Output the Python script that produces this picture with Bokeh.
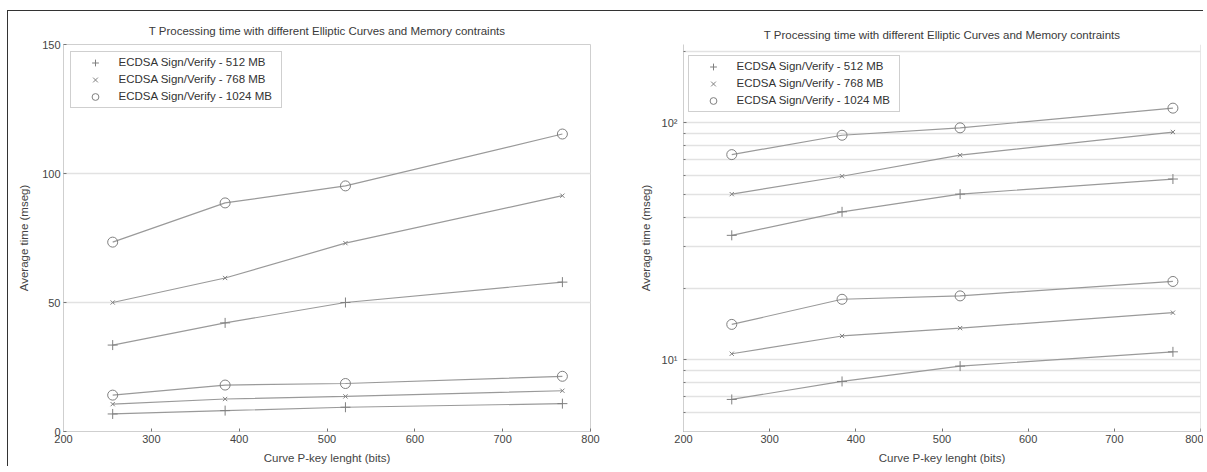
from bokeh.plotting import figure
from bokeh.models import Range1d, FixedTicker, Legend, LegendItem, Span
from bokeh.layouts import row
from bokeh.embed import file_html
from bokeh.resources import INLINE

# ---- data ----
key_bits = [256, 384, 521, 768]
t512_high = [33.5, 42.1, 50.0, 57.9]
t768_high = [50.0, 59.5, 73.0, 91.4]
t1024_high = [73.4, 88.6, 95.2, 115.3]
t512_low = [6.8, 8.1, 9.4, 10.8]
t768_low = [10.6, 12.6, 13.6, 15.8]
t1024_low = [14.1, 18.0, 18.6, 21.4]
series_labels = ["ECDSA Sign/Verify - 512 MB",
                 "ECDSA Sign/Verify - 768 MB",
                 "ECDSA Sign/Verify - 1024 MB"]
x_ticks = [200, 300, 400, 500, 600, 700, 800]
lin_y_ticks = [0, 50, 100, 150]
log_y_ticks = [10, 100]
log_y_minor = [6, 7, 8, 9, 20, 30, 40, 50, 60, 70, 80, 90, 200]
title_text = "T Processing time with different Elliptic Curves and Memory contraints"
x_label = "Curve P-key lenght (bits)"
y_label = "Average time (mseg)"

FONT = "Liberation Sans"
LINE_C = "#9a9a9a"
MARK_C = "#808080"
FRAME_C = "#cfcfcf"
GRID_C = "#e2e2e2"
TEXT_C = "#444444"


def build(log, width, mbl, mbr, yr, title_standoff):
    kw = dict(width=width, height=455, output_backend="svg", toolbar_location=None,
              min_border_left=mbl, min_border_right=mbr, min_border_top=33,
              min_border_bottom=35, x_range=Range1d(200, 800), y_range=yr,
              title=title_text)
    if log:
        kw["y_axis_type"] = "log"
    p = figure(**kw)
    p.title.align = "center"
    p.title.text_font = FONT
    p.title.text_font_size = "11.5px"
    p.title.text_font_style = "normal"
    p.title.text_color = "#3a3a3a"
    p.title.standoff = title_standoff
    p.outline_line_color = FRAME_C
    p.background_fill_color = "white"
    p.border_fill_color = "white"

    p.xaxis.ticker = FixedTicker(ticks=x_ticks)
    if log:
        yt = FixedTicker(ticks=log_y_ticks, minor_ticks=log_y_minor)
        p.yaxis.ticker = yt
        p.ygrid.ticker = yt
        p.yaxis.major_label_overrides = {10: "10\u00b9", 100: "10\u00b2"}
        p.ygrid.minor_grid_line_color = GRID_C
        p.ygrid.minor_grid_line_width = 1.5
        p.yaxis.minor_tick_in = 2
        p.yaxis.major_label_standoff = 6
        p.yaxis.axis_label_standoff = 7
        # frame: top edge is given by the 200 grid line, right edge by a span
        p.outline_line_color = None
        p.add_layout(Span(location=x_ticks[-1], dimension="height",
                          line_color=FRAME_C, line_width=1))
    else:
        yt = FixedTicker(ticks=lin_y_ticks)
        p.yaxis.ticker = yt
        p.ygrid.ticker = yt
        p.yaxis.minor_tick_in = 0
        p.yaxis.major_label_standoff = 3
        p.yaxis.axis_label_standoff = 9
    p.yaxis.minor_tick_out = 0
    p.xaxis.minor_tick_in = 0
    p.xaxis.minor_tick_out = 0
    p.xgrid.grid_line_color = None
    p.ygrid.grid_line_color = GRID_C
    p.ygrid.grid_line_width = 1.5

    for ax in (p.xaxis, p.yaxis):
        ax.axis_line_color = FRAME_C
        ax.major_tick_in = 3
        ax.major_tick_out = 0
        ax.major_tick_line_color = "#777777"
        ax.minor_tick_line_color = "#777777"
        ax.major_label_text_font = FONT
        ax.major_label_text_font_size = "11px"
        ax.major_label_text_color = TEXT_C
        ax.axis_label_text_font = FONT
        ax.axis_label_text_font_size = "11.5px"
        ax.axis_label_text_font_style = "normal"
        ax.axis_label_text_color = TEXT_C
    p.xaxis.major_label_standoff = 3
    p.xaxis.axis_label_standoff = 6
    p.xaxis.axis_label = x_label
    p.yaxis.axis_label = y_label

    groups = [(t512_high, t512_low, "cross", 10),
              (t768_high, t768_low, "x", 6),
              (t1024_high, t1024_low, "circle", 10)]
    items = []
    for (hi, lo, mk, sz), lab in zip(groups, series_labels):
        rs = []
        for ys in (hi, lo):
            p.line(key_bits, ys, line_color=LINE_C, line_width=1.2)
            r = p.scatter(key_bits, ys, marker=mk, size=sz, line_color=MARK_C,
                          fill_color=None, line_width=1)
            rs.append(r)
        items.append(LegendItem(label=lab, renderers=[rs[0]]))
    leg = Legend(items=items, location=(5, 319) if log else "top_left")
    leg.border_line_color = "#a0a0a0"
    leg.border_line_width = 1
    leg.background_fill_color = "white"
    leg.padding = 2
    leg.margin = 7
    leg.spacing = 0
    leg.label_height = 17
    leg.glyph_height = 17
    leg.glyph_width = 44
    leg.label_standoff = 2
    leg.label_width = 160
    leg.label_text_font = FONT
    leg.label_text_font_size = "11.5px"
    leg.label_text_color = "#333333"
    p.add_layout(leg)
    return p


p1 = build(False, 628, 55, 46, Range1d(0, 150), 16)
p2 = build(True, 567, 47, 3, Range1d(4.98, 214), 7)

layout = row(p1, p2)
layout.styles = {"border-top": "1.5px solid #333333",
                 "border-left": "1.5px solid #333333",
                 "margin-top": "9.5px", "margin-left": "6.5px"}

open("out.html", "w").write(file_html(layout, INLINE))
